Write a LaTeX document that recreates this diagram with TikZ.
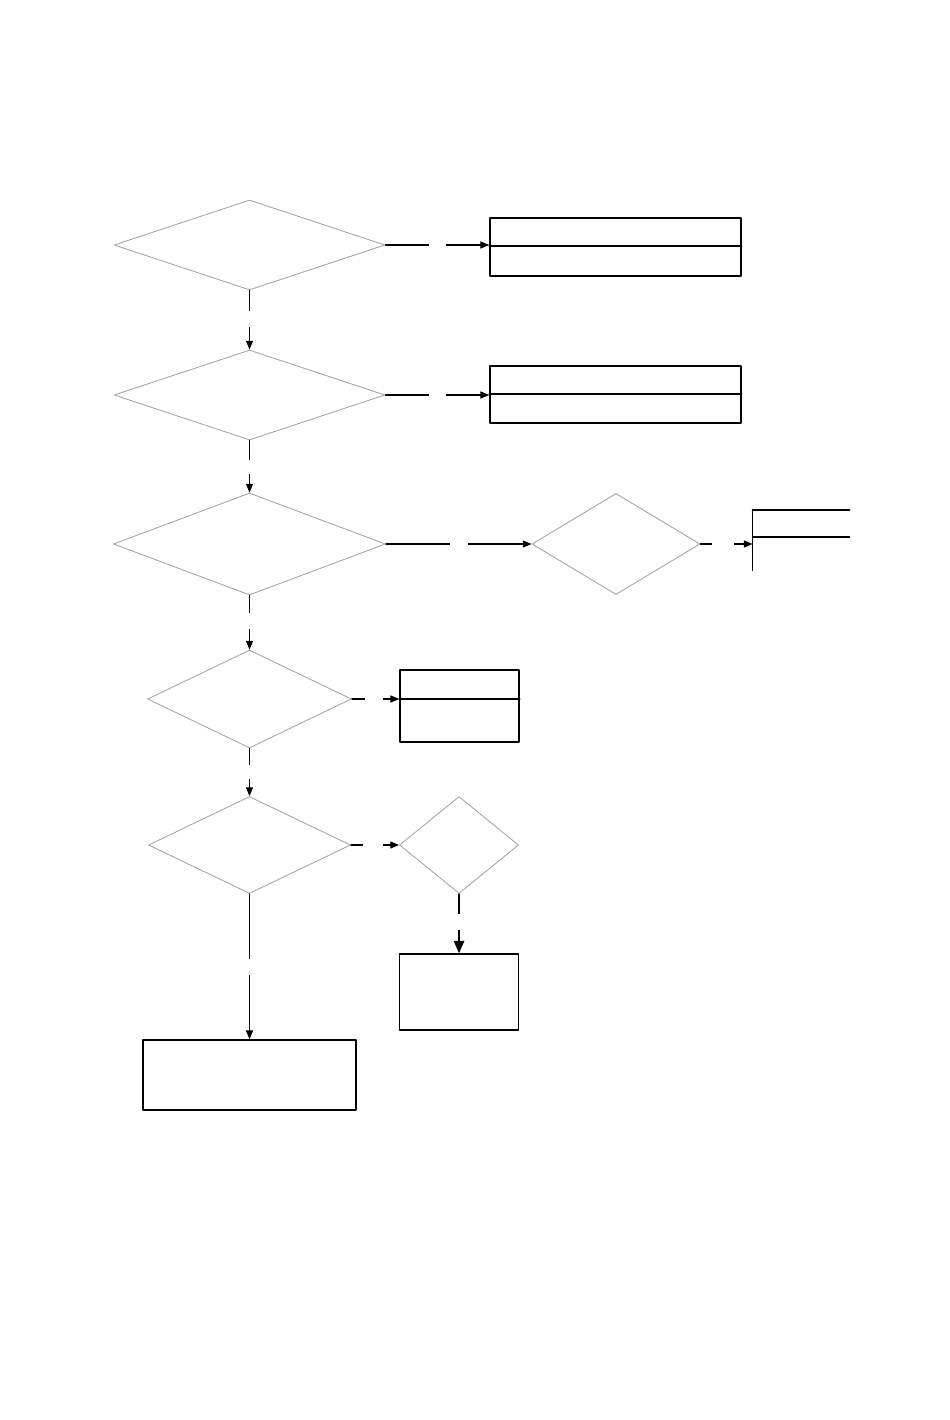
\documentclass[tikz,border=0pt]{standalone}
\usetikzlibrary{arrows.meta, shapes.geometric}

\begin{document}
\begin{tikzpicture}[x=0.02cm, y=-0.02cm, line join=round, line cap=round]
        % ---------------------------------------------------
        % 1 unit = 1 pixel of the page, y grows downwards
        % ---------------------------------------------------
        \def\px{0.02cm}
        \tikzset{
            decide/.style={diamond, draw=gray!70, line width=0.5pt, inner sep=0pt},
            result/.style={rectangle, draw=black, line width=0.9pt, inner sep=0pt},
            link/.style={black, line width=0.6pt, -{Triangle[length=5pt, width=4pt]}},
            gap/.style={fill=white, inner sep=0pt, minimum size=16*\px}
        }
        \useasboundingbox (0,0) rectangle (950,1420);

        % main column of decisions
        \node (d1) [decide, minimum width=271*\px, minimum height=90*\px] at (249.5,245) {};
        \node (d2) [decide, minimum width=271*\px, minimum height=90*\px] at (249.5,395) {};
        \node (d3) [decide, minimum width=272*\px, minimum height=102*\px] at (249.5,544) {};
        \node (d5) [decide, minimum width=204*\px, minimum height=98*\px] at (249.5,699) {};
        \node (d6) [decide, minimum width=202*\px, minimum height=97*\px] at (249.5,845) {};

        % side decisions
        \node (d4) [decide, minimum width=168*\px, minimum height=101*\px] at (616,544) {};
        \node (d7) [decide, minimum width=119*\px, minimum height=97*\px] at (459,845) {};

        % result boxes
        \node (b1) [result, minimum width=251*\px, minimum height=58*\px] at (615.5,247) {};
        \node (b2) [result, minimum width=251*\px, minimum height=57*\px] at (615.5,394.5) {};
        \node (b4) [result, minimum width=119*\px, minimum height=72*\px] at (459.5,706) {};
        \node (b5) [result, minimum width=119*\px, minimum height=76*\px] at (459,992) {};
        \node (b6) [result, minimum width=213*\px, minimum height=70*\px] at (249.5,1075) {};

        % dividers
        \draw[line width=0.9pt] (b1.west |- 0,246) -- (b1.east |- 0,246);
        \draw[line width=0.9pt] (b2.west |- 0,394) -- (b2.east |- 0,394);
        \draw[line width=0.9pt] (b4.west |- 0,699) -- (b4.east |- 0,699);

        % box cut off at the right edge of the page
        \node (b3) [inner sep=0pt, minimum width=96*\px, minimum height=60*\px] at (801,540) {};
        \draw[line width=1.3pt] (b3.north west) -- (b3.north east);
        \draw[line width=0.9pt] (b3.north west) -- (b3.south west);
        \draw[line width=0.9pt] (b3.west |- 0,537) -- (b3.east |- 0,537);

        % vertical connectors
        \draw[link] (d1.south) -- (d2.north) node[gap, pos=0.49] {};
        \draw[link] (d2.south) -- (d3.north) node[gap, pos=0.5, minimum size=14*\px] {};
        \draw[link] (d3.south) -- (d5.north) node[gap, pos=0.47] {};
        \draw[link] (d5.south) -- (d6.north) node[gap, pos=0.5, minimum size=14*\px] {};
        \draw[link] (d6.south) -- (b6.north) node[gap, pos=0.5] {};
        \draw[line width=0.6pt, -{Triangle[length=7pt, width=6pt]}] (d7.south) -- (b5.north) node[gap, pos=0.48] {};

        % horizontal connectors
        \draw[link] (d1.east) -- (b1.west |- d1.east) node[gap, pos=0.5, minimum size=17*\px] {};
        \draw[link] (d2.east) -- (b2.west |- d2.east) node[gap, pos=0.5, minimum size=17*\px] {};
        \draw[link] (d3.east) -- (d4.west) node[gap, pos=0.5, minimum size=18*\px] {};
        \draw[link] (d4.east) -- (b3.west |- d4.east) node[gap, pos=0.44, minimum size=22*\px] {};
        \draw[link] (d5.east) -- (b4.west |- d5.east) node[gap, pos=0.46, minimum size=18*\px] {};
        \draw[link] (d6.east) -- (d7.west) node[gap, pos=0.45, minimum size=20*\px] {};

    \end{tikzpicture}
\end{document}
